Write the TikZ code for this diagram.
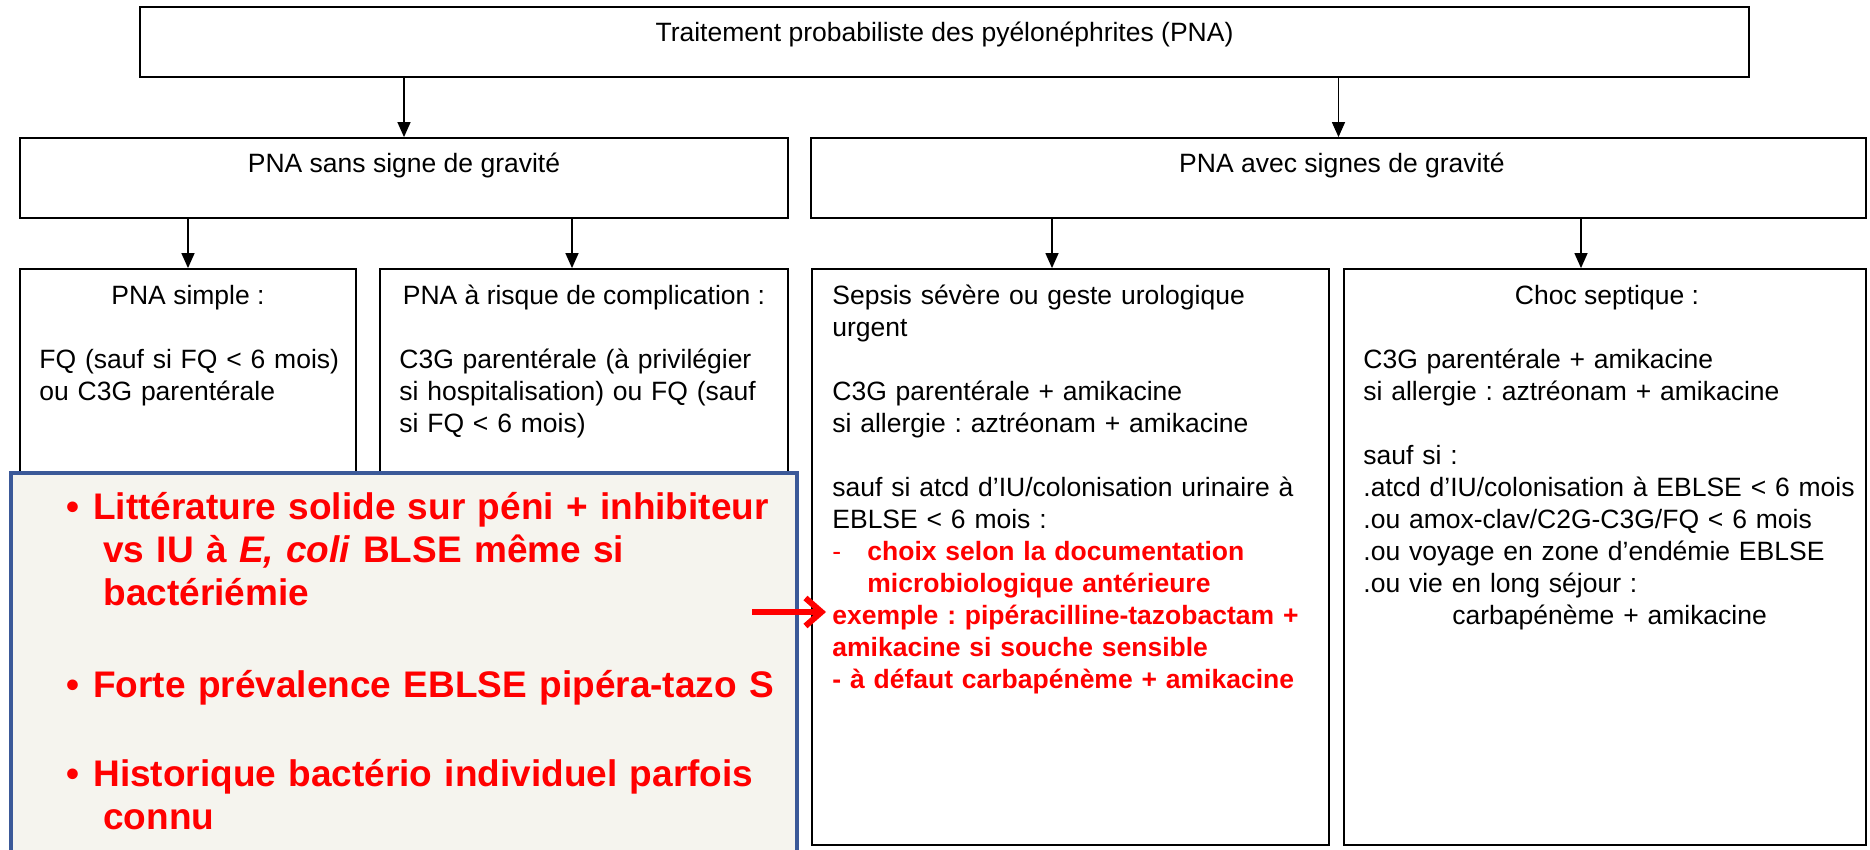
\documentclass[tikz,border=0pt]{standalone}
\usepackage{fontspec}
\setmainfont{Liberation Sans}
\usetikzlibrary{arrows.meta,fit}
\frenchspacing
\definecolor{bbord}{RGB}{59,89,152}
\definecolor{bfill}{RGB}{245,244,238}
\definecolor{rred}{RGB}{255,0,0}
\tikzset{
  box/.style={draw=black, line width=0.9pt, rectangle, inner sep=0pt},
  arr/.style={line width=0.7pt, -{Triangle[length=7.5pt,width=6.5pt]}},
  txt/.style={inner sep=0pt, font=\frenchspacing\fontsize{13.25pt}{16pt}\selectfont},
  ltxt/.style={txt, anchor=base west, align=left},
  ctxt/.style={txt, anchor=base},
  rtxt/.style={inner sep=0pt, anchor=base west, align=left, text=rred, font=\frenchspacing\bfseries\fontsize{18.5pt}{21.5pt}\selectfont},
}
\begin{document}
\begin{tikzpicture}[x=0.5pt,y=-0.5pt]
\useasboundingbox (0,0) rectangle (1870,850);
% boxes
\node[box, fit={(140,7) (1749,77)}] (top) {};
\node[box, fit={(20,138) (788,218)}] (sans) {};
\node[box, fit={(811,138) (1866,218)}] (avec) {};
\node[box, fit={(20,269) (356,845)}] (simple) {};
\node[box, fit={(380,269) (788,845)}] (risque) {};
\node[box, fit={(812,269) (1329,845)}] (sepsis) {};
\node[box, fit={(1344,269) (1866,845)}] (choc) {};
% arrow x positions
\coordinate (xr) at (572,0);
\coordinate (xs) at (1052,0);
\coordinate (xc) at (1581,0);
\draw[arr] (top.south -| sans.north) -- (sans.north);
\draw[arr] (top.south -| avec.north) -- (avec.north);
\draw[arr] (sans.south -| simple.north) -- (simple.north);
\draw[arr] (sans.south -| xr) -- (risque.north -| xr);
\draw[arr] (avec.south -| xs) -- (sepsis.north -| xs);
\draw[arr] (avec.south -| xc) -- (choc.north -| xc);
% texts
\node[ctxt] (ttop) at (944.5,42) {Traitement probabiliste des pyélonéphrites (PNA)};
\node[ctxt] (tsans) at (404,173) {PNA sans signe de gravité};
\node[ctxt] (tavec) at (1342,173) {PNA avec signes de gravité};
\node[ctxt] (tsimple) at (188,305) {PNA simple :};
\node[ltxt, text width=170pt] (bsimple) at (39,369) {FQ (sauf si FQ < 6 mois)\\ ou C3G parentérale};
\node[ctxt] (trisque) at (584,305) {PNA à risque de complication :};
\node[ltxt, text width=200pt] (brisque) at (399,369) {C3G parentérale (à privilégier\\ si hospitalisation) ou FQ (sauf\\ si FQ < 6 mois)};
\node[ltxt, text width=300pt] (bsepsis) at (832,305) {Sepsis sévère ou geste urologique\\ urgent\\[16pt] C3G parentérale + amikacine\\ si allergie : aztréonam + amikacine\\[16pt] sauf si atcd d’IU/colonisation urinaire à\\ EBLSE < 6 mois :\\ \color{rred}\makebox[17.5pt][l]{-}\textbf{choix selon la documentation}\\ \hspace*{17.5pt}\textbf{microbiologique antérieure}\\ \bfseries exemple : pipéracilline-tazobactam +\\ amikacine si souche sensible\\ - à défaut carbapénème + amikacine};
\node[ctxt] (tchoc) at (1607,305) {Choc septique :};
\node[ltxt, text width=300pt] (bchoc) at (1363,369) {C3G parentérale + amikacine\\ si allergie : aztréonam + amikacine\\[16pt] sauf si :\\ .atcd d’IU/colonisation à EBLSE < 6 mois\\ .ou amox-clav/C2G-C3G/FQ < 6 mois\\ .ou voyage en zone d’endémie EBLSE\\ .ou vie en long séjour :\\ \hspace*{44.5pt}carbapénème + amikacine};
% note box
\node[fit={(11,473) (797,870)}, inner sep=0pt, draw=bbord, fill=bfill, line width=2pt] (note) {};
\node[rtxt, text width=400pt] (item1) at (66,519) {\makebox[13.5pt][l]{•}Littérature solide sur péni + inhibiteur\\ \hspace*{18.5pt}vs IU à \textit{E, coli} BLSE même si\\ \hspace*{18.5pt}bactériémie};
\node[rtxt, text width=400pt] (item2) at (66,697) {\makebox[13.5pt][l]{•}Forte prévalence EBLSE pipéra-tazo S};
\node[rtxt, text width=400pt] (item3) at (66,786) {\makebox[13.5pt][l]{•}Historique bactério individuel parfois\\ \hspace*{18.5pt}connu};
% red arrow
\coordinate (rs) at (752,612);
\coordinate (re) at (826,612);
\draw[line width=3pt, rred, -{Straight Barb[length=8pt,width=14pt]}] (rs) -- (re);
\end{tikzpicture}
\end{document}
